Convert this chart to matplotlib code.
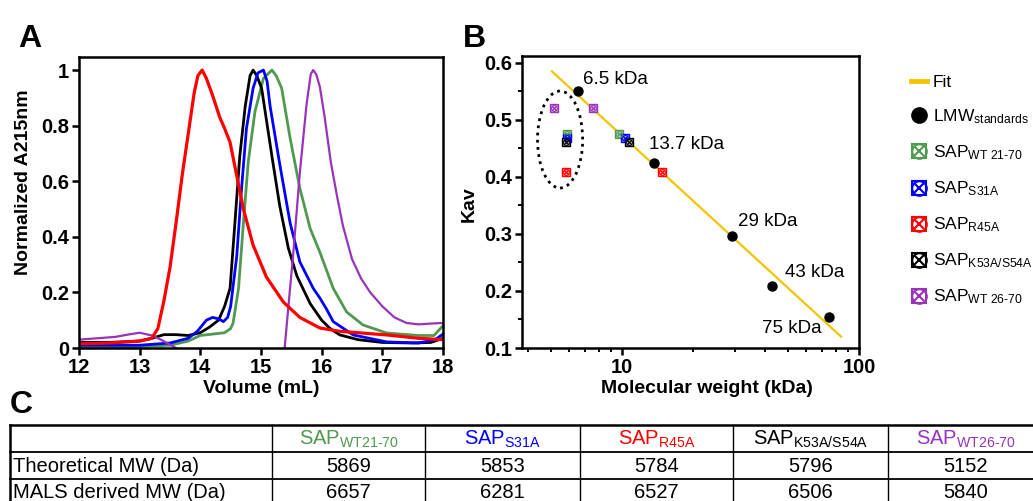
import numpy as np
import matplotlib
matplotlib.use('Agg')
import matplotlib.pyplot as plt
from matplotlib import font_manager
from matplotlib.lines import Line2D
from matplotlib.patches import Ellipse
from matplotlib.ticker import FixedLocator, NullFormatter, MultipleLocator

plt.rcParams['font.family'] = ['Liberation Sans', 'DejaVu Sans']
plt.rcParams['mathtext.fontset'] = 'custom'
plt.rcParams['mathtext.rm'] = 'Liberation Sans'
plt.rcParams['mathtext.it'] = 'Liberation Sans:italic'
plt.rcParams['mathtext.bf'] = 'Liberation Sans:bold'

installed = {f.name for f in font_manager.fontManager.ttflist}
NARROW = 'Liberation Sans Narrow' if 'Liberation Sans Narrow' in installed else None

# ---- colours ----
GREEN = '#4f9a4f'
BLUE = '#0000ff'
RED = '#ff0000'
BLACK = '#000000'
PURPLE = '#9933bb'
GOLD = '#f5c400'

# ---- panel A: SEC traces (volume mL, normalized A215) ----
red_v = [12.0, 12.5, 13.0, 13.2, 13.3, 13.4, 13.5, 13.6, 13.7, 13.8, 13.9, 13.96, 14.03, 14.1,
         14.2, 14.32, 14.4, 14.49, 14.6, 14.71, 14.87, 15.09, 15.37, 15.64, 15.97, 16.3, 16.6,
         17.07, 17.6, 18.0]
red_a = [0.015, 0.018, 0.025, 0.035, 0.07, 0.17, 0.29, 0.45, 0.62, 0.77, 0.92, 0.98, 1.0, 0.97,
         0.91, 0.83, 0.79, 0.74, 0.62, 0.5, 0.37, 0.255, 0.165, 0.11, 0.072, 0.06, 0.055,
         0.047, 0.035, 0.03]

purple_v = [12.0, 12.3, 12.6, 12.8, 13.0, 13.2, 13.35, 13.5, 13.6, 14.5, 15.3, 15.39, 15.46,
            15.53, 15.64, 15.75, 15.82, 15.86, 15.91, 15.97, 16.05, 16.15, 16.25, 16.35, 16.5,
            16.65, 16.8, 17.0, 17.2, 17.4, 17.6, 17.8, 18.0]
purple_a = [0.03, 0.035, 0.04, 0.048, 0.055, 0.045, 0.03, 0.012, 0.0, -0.1, -0.1, 0.0, 0.17,
            0.335, 0.63, 0.875, 0.985, 1.0, 0.985, 0.94, 0.83, 0.67, 0.55, 0.44, 0.32,
            0.25, 0.2, 0.15, 0.11, 0.09, 0.085, 0.088, 0.09]

black_v = [12.0, 12.5, 13.0, 13.2, 13.4, 13.6, 13.8, 14.0, 14.15, 14.3, 14.4, 14.49, 14.57,
           14.65, 14.74, 14.82, 14.87, 14.93, 15.01, 15.18, 15.31, 15.45, 15.59, 15.81, 16.0,
           16.14, 16.3, 16.6, 17.0, 17.5, 17.8, 18.0]
black_a = [0.02, 0.02, 0.025, 0.035, 0.048, 0.048, 0.045, 0.055, 0.075, 0.1, 0.15, 0.215, 0.45,
           0.69, 0.87, 0.98, 1.0, 0.98, 0.935, 0.69, 0.51, 0.36, 0.26, 0.16, 0.1,
           0.07, 0.047, 0.03, 0.02, 0.018, 0.02, 0.035]

blue_v = [12.0, 13.0, 13.5, 13.8, 13.95, 14.1, 14.2, 14.3, 14.38, 14.45, 14.5, 14.6, 14.68,
          14.76, 14.87, 14.95, 15.04, 15.1, 15.15, 15.31, 15.48, 15.64, 15.86, 15.97, 16.08,
          16.19, 16.52, 17.07, 17.6, 17.87, 18.0]
blue_a = [0.01, 0.01, 0.018, 0.035, 0.06, 0.1, 0.11, 0.105, 0.095, 0.11, 0.15, 0.33, 0.575,
          0.79, 0.935, 0.99, 1.0, 0.96, 0.87, 0.66, 0.45, 0.31, 0.215, 0.18, 0.14,
          0.095, 0.047, 0.022, 0.018, 0.03, 0.05]

green_v = [12.0, 13.0, 13.5, 13.8, 14.0, 14.2, 14.4, 14.5, 14.54, 14.63, 14.71, 14.79, 14.9,
           15.04, 15.18, 15.25, 15.34, 15.48, 15.64, 15.81, 15.97, 16.19, 16.41, 16.68, 17.07,
           17.6, 17.85, 18.0]
green_a = [0.005, 0.005, 0.01, 0.025, 0.045, 0.05, 0.055, 0.07, 0.09, 0.215, 0.45, 0.67, 0.85,
           0.97, 1.0, 0.98, 0.935, 0.755, 0.575, 0.43, 0.345, 0.215, 0.13, 0.083, 0.054,
           0.045, 0.045, 0.08]

# ---- panel B: calibration ----
std_mw = [6.5, 13.7, 29, 43, 75]
std_kav = [0.55, 0.425, 0.296, 0.208, 0.155]
std_labels = ['6.5 kDa', '13.7 kDa', '29 kDa', '43 kDa', '75 kDa']
fit_mw = [5.07, 84]
fit_kav = [0.585, 0.12]

sap_names = ['WT 21-70', 'S31A', 'R45A', 'K53A/S54A', 'WT 26-70']
sap_colors = [GREEN, BLUE, RED, BLACK, PURPLE]
sap_kav = [0.476, 0.468, 0.408, 0.461, 0.52]
sap_mw_est = [9.7, 10.3, 14.7, 10.7, 7.55]        # from calibration
sap_mw_theo = [5.869, 5.853, 5.784, 5.796, 5.152]  # theoretical, kDa

# ---- panel C: table ----
tbl_cols = ['WT21-70', 'S31A', 'R45A', 'K53A/S54A', 'WT26-70']
tbl_rows = ['Theoretical MW (Da)', 'MALS derived MW (Da)']
theo_mw = [5869, 5853, 5784, 5796, 5152]
mals_mw = [6657, 6281, 6527, 6506, 5840]

W, H = 1033, 501
fig = plt.figure(figsize=(W / 100, H / 100), dpi=100)


def px_axes(x0, y0, x1, y1):
    return fig.add_axes([x0 / W, 1 - y1 / H, (x1 - x0) / W, (y1 - y0) / H])


def style_box(ax):
    for s in ax.spines.values():
        s.set_linewidth(1.8)
    ax.tick_params(which='major', direction='out', length=5, width=1.8, labelsize=14.5, pad=2)
    ax.tick_params(which='minor', direction='out', length=3, width=1.4)
    for lab in ax.get_xticklabels() + ax.get_yticklabels():
        lab.set_fontweight('bold')


# ---------------- A ----------------
ax_a = px_axes(79, 57, 443, 348)
ax_a.plot(green_v, green_a, color=GREEN, lw=2.0)
ax_a.plot(black_v, black_a, color=BLACK, lw=2.0)
ax_a.plot(blue_v, blue_a, color=BLUE, lw=2.0)
ax_a.plot(purple_v, purple_a, color=PURPLE, lw=1.6)
ax_a.plot(red_v, red_a, color=RED, lw=2.3)
ax_a.set_xlim(12, 18)
ax_a.set_ylim(0, 1.047)
ax_a.set_xticks(range(12, 19))
ax_a.set_yticks([0, 0.2, 0.4, 0.6, 0.8, 1.0])
ax_a.set_yticklabels(['0', '0.2', '0.4', '0.6', '0.8', '1'])
style_box(ax_a)
ax_a.set_xlabel('Volume (mL)', fontsize=14, fontweight='bold')
ax_a.set_ylabel('Normalized A215nm', fontsize=14, fontweight='bold')
ax_a.xaxis.set_label_coords(0.5, -0.11)
ax_a.yaxis.set_label_coords(-0.13, 0.57)

# ---------------- B ----------------
ax_b = px_axes(522, 56, 859, 348)
ax_b.set_xscale('log')
ax_b.plot(fit_mw, fit_kav, color=GOLD, lw=1.6, zorder=2)
ax_b.plot(std_mw, std_kav, 'o', color=BLACK, ms=6.5, zorder=3)


def sap_marker(ax, x, y, c, ms):
    ax.plot(x, y, 's', mfc='white', mec=c, mew=1.0, ms=ms, zorder=4)
    ax.plot(x, y, 'o', mfc='none', mec=c, mew=0.9, ms=ms * 0.75, zorder=5)
    ax.plot(x, y, 'x', color=c, mew=0.9, ms=ms * 0.8, zorder=5)


for mx, mt, k, c in zip(sap_mw_est, sap_mw_theo, sap_kav, sap_colors):
    sap_marker(ax_b, [mx, mt], [k, k], c, 5.5)

offsets = [(6.84, 0.570), (13.0, 0.456), (30.8, 0.321), (48.7, 0.232), (39.0, 0.135)]
for (tx, ty), lab in zip(offsets, std_labels):
    ax_b.text(tx, ty, lab, fontsize=13.5, va='center', ha='left')

ax_b.add_patch(Ellipse((0.113, 0.714), 0.134, 0.332, transform=ax_b.transAxes,
                       fill=False, ec='black', lw=2.0, ls=(0, (1, 1.6))))

ax_b.set_xlim(3.79, 100)
ax_b.set_ylim(0.1, 0.612)
ax_b.xaxis.set_major_locator(FixedLocator([10, 100]))
ax_b.set_xticklabels(['10', '100'])
ax_b.xaxis.set_minor_locator(FixedLocator([4, 5, 6, 7, 8, 9, 20, 30, 40, 50, 60, 70, 80, 90]))
ax_b.xaxis.set_minor_formatter(NullFormatter())
ax_b.yaxis.set_minor_locator(MultipleLocator(0.05))
ax_b.set_yticks([0.1, 0.2, 0.3, 0.4, 0.5, 0.6])
ax_b.set_yticklabels(['0.1', '0.2', '0.3', '0.4', '0.5', '0.6'])
style_box(ax_b)
ax_b.set_xlabel('Molecular weight (kDa)', fontsize=14, fontweight='bold')
ax_b.set_ylabel('Kav', fontsize=14, fontweight='bold')
ax_b.xaxis.set_label_coords(0.549, -0.11)
ax_b.yaxis.set_label_coords(-0.13, 0.493)

# legend (narrow text so it fits to the right of panel B)
handles = [Line2D([], [], color=GOLD, lw=3.5),
           Line2D([], [], ls='', marker='o', color=BLACK, ms=11)]
labels = ['Fit', r'LMW$_{\text{standards}}$']
for name, c in zip(sap_names, sap_colors):
    h = (Line2D([], [], ls='', marker='s', mfc='none', mec=c, mew=1.5, ms=9.5),
         Line2D([], [], ls='', marker='o', mfc='none', mec=c, mew=1.5, ms=10.5),
         Line2D([], [], ls='', marker='x', color=c, mew=1.5, ms=7.5))
    handles.append(h)
    labels.append('SAP$_{\\text{%s}}$' % name)
if NARROW:
    plt.rcParams['mathtext.rm'] = NARROW
    leg_font = {'family': NARROW, 'size': 15.5}
else:
    leg_font = {'size': 12.5}
ax_b.legend(handles, labels, loc='upper left', bbox_to_anchor=(1.154, 0.935),
            frameon=False, borderaxespad=0, borderpad=0, prop=leg_font,
            handlelength=0.9, handletextpad=0.35, labelspacing=1.0)

# ---------------- panel letters ----------------
fig.text(18 / W, 1 - 47 / H, 'A', fontsize=23, fontweight='bold', va='baseline')
fig.text(463 / W, 1 - 47 / H, 'B', fontsize=23, fontweight='bold', va='baseline')
fig.text(10 / W, 1 - 413 / H, 'C', fontsize=23, fontweight='bold', va='baseline')

# ---------------- C table ----------------
ax_t = px_axes(0, 415, W, H)
ax_t.set_xlim(0, W)
ax_t.set_ylim(H, 415)
ax_t.axis('off')
tfam = [NARROW, 'Liberation Sans'] if NARROW else ['Liberation Sans']
tsize = 16 if NARROW else 14.5
col_x = [10, 272, 425, 580, 733, 888, 1043]
row_y = [425, 452, 479, 506]
for y in row_y:
    ax_t.plot([col_x[0], col_x[-1]], [y, y], color='black', lw=1.3 if y != 425 else 1.8,
              clip_on=False)
for x in col_x:
    ax_t.plot([x, x], [row_y[0], row_y[-1]], color='black', lw=1.8 if x == 10 else 1.0,
              clip_on=False)
for i, (name, c) in enumerate(zip(tbl_cols, sap_colors)):
    cx = (col_x[i + 1] + col_x[i + 2]) / 2
    ax_t.text(cx, 439, 'SAP$_{\\text{%s}}$' % name, color=c, ha='center', va='center',
              fontsize=tsize, family=tfam)
    ax_t.text(cx, 466, str(theo_mw[i]), ha='center', va='center', fontsize=tsize, family=tfam)
    ax_t.text(cx, 493, str(mals_mw[i]), ha='center', va='center', fontsize=tsize, family=tfam)
for j, rl in enumerate(tbl_rows):
    ax_t.text(13, 466 + 27 * j, rl, ha='left', va='center', fontsize=tsize, family=tfam)

fig.savefig('out.png', dpi=100)
